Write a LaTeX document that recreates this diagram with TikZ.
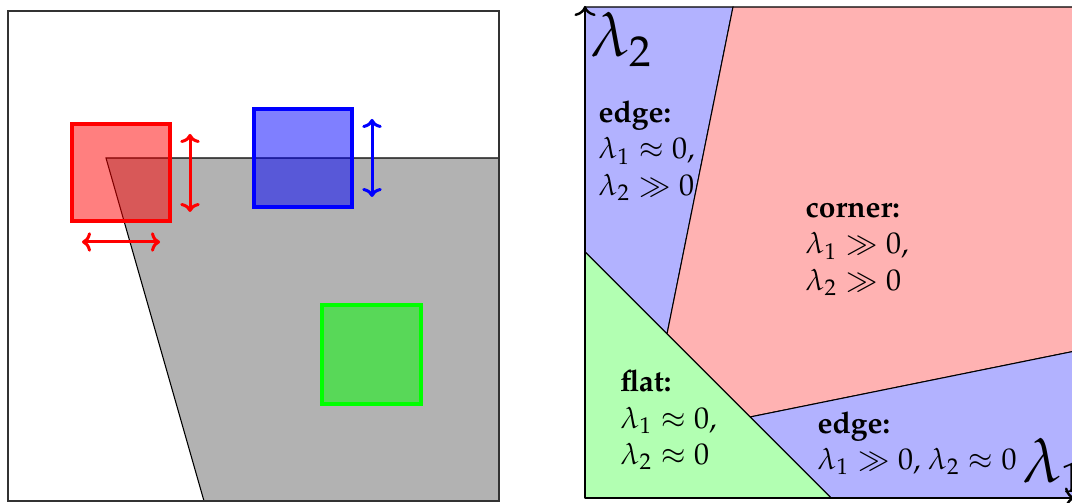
\documentclass[tikz,border=0pt]{standalone}
\usepackage[T1]{fontenc}
\usepackage{mathpazo}
\usetikzlibrary{arrows.meta}
\begin{document}
\begin{tikzpicture}[x=0.3333pt,y=-0.3333pt,
  frame/.style={draw=black!80,line width=0.4pt},
  sq/.style={line width=1.4pt,fill opacity=0.5},
  dbl/.style={{To[length=3pt,width=6.5pt]}-{To[length=3pt,width=6.5pt]},line width=1pt},
  region/.style={draw=black,line width=0.35pt},
  axis/.style={->,line width=0.8pt},
  lbl/.style={anchor=base west,inner sep=0pt,font=\normalsize},
  biglbl/.style={anchor=base west,inner sep=0pt,font=\huge}]
\useasboundingbox (0,0) rectangle (1072,503);
\clip (0,0) rectangle (1072,503);
% ---------- left panel ----------
\fill[black!30] (106,158) -- (499,158) -- (499,501) -- (204,501) -- cycle;
\draw[line width=0.35pt] (499,158) -- (106,158) -- (204,501);
\draw[frame] (8,11) rectangle (499,501);
\draw[sq,draw=red,fill=red] (72,124) rectangle (170,221);
\draw[sq,draw=blue,fill=blue] (254,109) rectangle (352,207);
\draw[sq,draw=green,fill=green] (322,305) rectangle (421,404);
\draw[dbl,red] (190,134) -- (190,212);
\draw[dbl,red] (82,242) -- (160,242);
\draw[dbl,blue] (372,119) -- (372,197);
% ---------- right panel ----------
\filldraw[region,fill=blue!30] (585,7) -- (733,7) -- (667,334) -- (585,252) -- cycle;
\filldraw[region,fill=red!30] (733,7) -- (1100,7) -- (1100,346) -- (750,417) -- (667,334) -- cycle;
\filldraw[region,fill=blue!30] (750,417) -- (1100,346) -- (1100,498) -- (831,498) -- cycle;
\filldraw[region,fill=green!30] (585,252) -- (831,498) -- (585,498) -- cycle;
\coordinate (o) at (585,498);
\coordinate (ytip) at (585,6);
\coordinate (xtip) at (1075,498);
\draw[axis] (o) -- (ytip);
\draw[axis] (o) -- (xtip);
\node[biglbl] (l2) at (590,57) {$\lambda_2$};
\node[biglbl] (l1) at (1022,483) {$\lambda_1$};
\node[lbl] (edgeA) at (598,123) {\begin{tabular}[t]{@{}l@{}}\textbf{edge:}\\ $\lambda_1\approx 0$,\\ $\lambda_2\gg 0$\end{tabular}};
\node[lbl] (corner) at (805,218) {\begin{tabular}[t]{@{}l@{}}\textbf{corner:}\\ $\lambda_1\gg 0$,\\ $\lambda_2\gg 0$\end{tabular}};
\node[lbl] (flat) at (620,392) {\begin{tabular}[t]{@{}l@{}}\textbf{flat:}\\ $\lambda_1\approx 0$,\\ $\lambda_2\approx 0$\end{tabular}};
\node[lbl] (edgeB) at (817,433) {\begin{tabular}[t]{@{}l@{}}\textbf{edge:}\\ $\lambda_1\gg 0$, $\lambda_2\approx 0$\end{tabular}};
\end{tikzpicture}
\end{document}
